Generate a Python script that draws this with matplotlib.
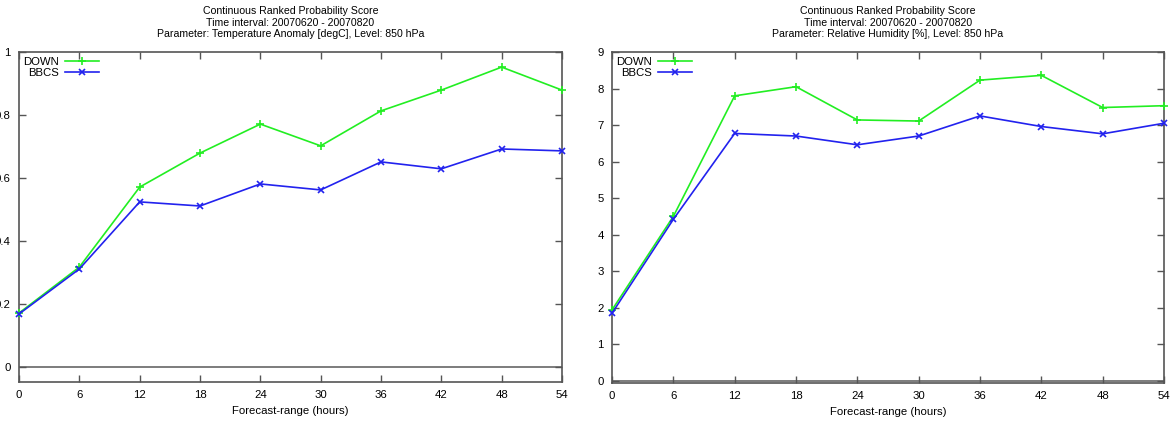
import matplotlib
matplotlib.use("Agg")
import matplotlib.pyplot as plt

plt.rcParams['font.family'] = ['Liberation Sans', 'DejaVu Sans']

hours = [0, 6, 12, 18, 24, 30, 36, 42, 48, 54]

# temperature anomaly
t_down = [0.171, 0.317, 0.571, 0.679, 0.771, 0.702, 0.813, 0.879, 0.952, 0.879]
t_bbcs = [0.168, 0.311, 0.524, 0.511, 0.581, 0.562, 0.651, 0.629, 0.692, 0.686]

# relative humidity
rh_down = [1.94, 4.50, 7.80, 8.05, 7.14, 7.11, 8.23, 8.36, 7.48, 7.53]
rh_bbcs = [1.85, 4.42, 6.77, 6.70, 6.46, 6.70, 7.25, 6.96, 6.76, 7.05]

titles = [
    "Continuous Ranked Probability Score\nTime interval: 20070620 - 20070820\n"
    "Parameter: Temperature Anomaly [degC], Level: 850 hPa",
    "Continuous Ranked Probability Score\nTime interval: 20070620 - 20070820\n"
    "Parameter: Relative Humidity [%], Level: 850 hPa",
]

green = "#22ee22"
blue = "#2222ee"
frame = "#555555"

fig = plt.figure(figsize=(11.74, 4.21), dpi=100)
ax1 = fig.add_axes([0.0162, 0.0926, 0.4625, 0.7839])
ax2 = fig.add_axes([0.5213, 0.0903, 0.4702, 0.7862])

setups = [
    (ax1, t_down, t_bbcs, (-0.048, 1.0), [0, 0.2, 0.4, 0.6, 0.8, 1],
     ["0", "0.2", "0.4", "0.6", "0.8", "1"], titles[0]),
    (ax2, rh_down, rh_bbcs, (-0.06, 9.0), list(range(10)),
     [str(i) for i in range(10)], titles[1]),
]

for ax, down, bbcs, ylim, yt, ytl, title in setups:
    ax.axhline(0, color="#666666", lw=1.2, zorder=1)
    ax.plot(hours, down, color=green, lw=1.2, marker="+", ms=6, mew=1.2,
            label="DOWN", clip_on=False, zorder=3)
    ax.plot(hours, bbcs, color=blue, lw=1.2, marker="x", ms=5, mew=1.2,
            label="BBCS", clip_on=False, zorder=4)
    ax.set_xlim(0, 54)
    ax.set_ylim(*ylim)
    ax.set_xticks(hours)
    ax.set_yticks(yt)
    ax.set_yticklabels(ytl)
    ax.tick_params(direction="in", length=5, width=1, color=frame,
                   labelsize=8.2, top=True, right=True, pad=6)
    for s in ax.spines.values():
        s.set_color(frame)
        s.set_linewidth(1.2)
    ax.set_xlabel("Forecast-range (hours)", fontsize=8.2, labelpad=4)
    ax.set_title(title, fontsize=7.6, linespacing=1.15, pad=11)
    ax.legend(loc="upper left", frameon=False, markerfirst=False, fontsize=8.2,
              handlelength=3, handletextpad=0.5, labelspacing=0.1,
              borderaxespad=0.2, borderpad=0.2)

fig.savefig("out.png", dpi=100)
